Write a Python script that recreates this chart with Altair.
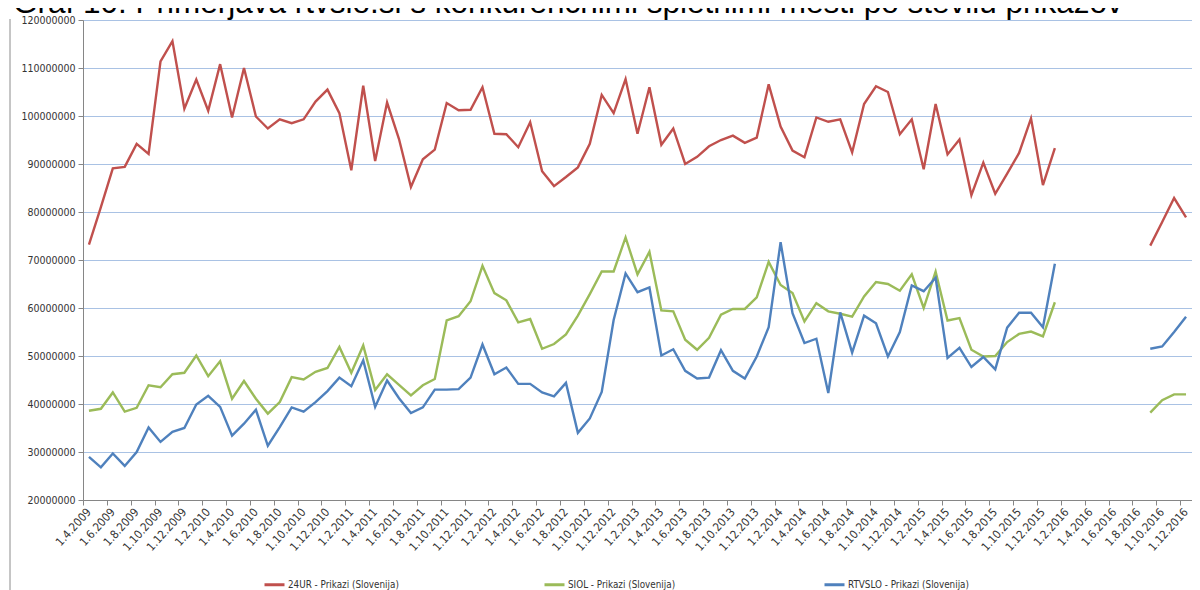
import json
import altair as alt
import pandas as pd

# ---------------- data ----------------
title_text = "Graf 10: Primerjava rtvslo.si s konkurenčnimi spletnimi mesti po številu prikazov"

series_names = ["24UR - Prikazi (Slovenija)", "SIOL - Prikazi (Slovenija)", "RTVSLO - Prikazi (Slovenija)"]
series_colors = ["#C0504D", "#9BBB59", "#4F81BD"]

# monthly labels 1.4.2009 ... 1.12.2016
month_labels = []
_y, _m = 2009, 4
for _ in range(93):
    month_labels.append(f"1.{_m}.{_y}")
    _m += 1
    if _m > 12:
        _m, _y = 1, _y + 1

gap = [None] * 7

# values in millions of views
ur24 = [73.2, 81.0, 89.1, 89.4, 94.2, 92.1, 111.4, 115.6, 101.5, 107.6,
        101.1, 110.8, 99.7, 110.0, 99.9, 97.4, 99.3, 98.5, 99.3, 103.0,
        105.5, 100.6, 88.7, 106.3, 90.6, 102.8, 95.2, 85.2, 91.0, 93.0,
        102.7, 101.2, 101.3, 106.0, 96.3, 96.2, 93.5, 98.7, 88.5, 85.4,
        87.3, 89.3, 94.2, 104.4, 100.6, 107.7, 96.3, 106.0, 94.0, 97.4,
        90.0, 91.5, 93.7, 95.0, 95.9, 94.4, 95.5, 106.6, 97.8, 92.8,
        91.4, 99.7, 98.8, 99.3, 92.4, 102.5, 106.2, 105.0, 96.2, 99.3,
        88.9, 102.5, 92.0, 95.1, 83.5, 90.3, 83.8, 88.0, 92.3, 99.5,
        85.6, 93.3] + gap + [73.0, 77.9, 82.9, 78.9]

siol = [38.6, 39.0, 42.4, 38.4, 39.2, 43.9, 43.5, 46.2, 46.5, 50.1,
        45.8, 48.9, 41.1, 44.8, 41.1, 38.0, 40.4, 45.6, 45.1, 46.7,
        47.5, 51.9, 46.5, 52.2, 42.9, 46.2, 44.0, 41.8, 43.9, 45.2,
        57.4, 58.3, 61.4, 68.8, 63.1, 61.6, 57.0, 57.7, 51.5, 52.5,
        54.5, 58.4, 62.9, 67.6, 67.6, 74.7, 67.0, 71.7, 59.5, 59.3,
        53.4, 51.3, 53.8, 58.6, 59.8, 59.8, 62.2, 69.6, 64.8, 63.1,
        57.2, 61.0, 59.3, 58.8, 58.2, 62.4, 65.4, 65.0, 63.6, 67.0,
        60.0, 67.6, 57.4, 57.9, 51.3, 49.9, 50.0, 52.9, 54.6, 55.1,
        54.1, 61.2] + gap + [38.2, 40.8, 42.0, 42.0]

rtvslo = [29.0, 26.8, 29.7, 27.1, 30.0, 35.1, 32.1, 34.2, 35.0, 39.9,
          41.7, 39.4, 33.4, 35.9, 38.8, 31.3, 35.2, 39.3, 38.4, 40.4,
          42.7, 45.5, 43.7, 49.1, 39.4, 44.9, 41.2, 38.1, 39.3, 43.0,
          43.0, 43.1, 45.5, 52.4, 46.2, 47.6, 44.2, 44.2, 42.4, 41.6,
          44.4, 34.0, 37.0, 42.5, 57.5, 67.2, 63.3, 64.3, 50.1, 51.4,
          46.9, 45.3, 45.5, 51.2, 46.9, 45.3, 49.9, 56.0, 73.7, 58.9,
          52.7, 53.6, 42.3, 59.1, 50.7, 58.4, 56.8, 49.9, 55.0, 64.7,
          63.5, 66.3, 49.6, 51.7, 47.7, 49.8, 47.2, 55.9, 59.0, 59.0,
          56.0, 69.2] + gap + [51.5, 52.0, 55.0, 58.2]

y_ticks = [20000000 + 10000000 * k for k in range(11)]

# ---------------- build table ----------------
rows = []
for order, (name, vals) in enumerate(zip(series_names, [ur24, siol, rtvslo])):
    for i, v in enumerate(vals):
        if v is None:
            continue
        rows.append({"idx": i, "value": v * 1e6, "series": name,
                     "seg": 0 if i < 82 else 1, "ord": order})
df = pd.DataFrame(rows)

W, H = 1109, 480
N = len(month_labels)
step = W / N
label_font = "Liberation Sans Narrow, DejaVu Sans Condensed, Arial Narrow, sans-serif"

x_enc = alt.X(
    "idx:Q",
    scale=alt.Scale(domain=[-0.5, N - 0.5], nice=False, zero=False),
    axis=alt.Axis(
        values=list(range(0, N, 2)),
        labelExpr=json.dumps(month_labels) + "[datum.value]",
        title=None, grid=False,
        tickSize=5, tickOffset=-step / 2, labelOffset=step / 2,
        tickColor="#868686", domainColor="#868686",
        labelAngle=-48, labelAlign="right", labelBaseline="middle",
        labelPadding=5, labelFontSize=11.5, labelFont=label_font,
        labelColor="#333333", labelOverlap=False, labelBound=False,
    ),
)
y_enc = alt.Y(
    "value:Q",
    scale=alt.Scale(domain=[20000000, 120000000], nice=False, zero=False),
    axis=alt.Axis(
        values=y_ticks, format="d", title=None,
        grid=True, gridColor="#A9C2E4", gridWidth=1,
        tickSize=5, tickColor="#868686", domainColor="#868686",
        labelPadding=3, labelFontSize=10.5, labelFont=label_font,
        labelColor="#333333",
    ),
)

lines = alt.Chart(df).mark_line(strokeWidth=2.4).encode(
    x=x_enc,
    y=y_enc,
    color=alt.Color(
        "series:N",
        scale=alt.Scale(domain=series_names, range=series_colors),
        sort=series_names,
        legend=alt.Legend(
            orient="none", legendX=180, legendY=553, direction="horizontal",
            title=None, symbolType="stroke", symbolSize=400, symbolStrokeWidth=3,
            labelFont=label_font, labelFontSize=9.8, labelColor="#333333",
            labelOffset=2, columnPadding=129, gridAlign="all", padding=0,
            labelLimit=300,
        ),
    ),
    detail="seg:N",
    order="ord:Q",
)

title_mark = alt.Chart(pd.DataFrame({"t": [title_text]})).mark_text(
    align="left", baseline="alphabetic", fontSize=31.5,
    font="Liberation Sans, Arial, sans-serif", color="#000000",
).encode(x=alt.value(-70), y=alt.value(-7), text="t:N")

frame_left = alt.Chart(pd.DataFrame({"a": [0]})).mark_rule(
    color="#8C8C8C", strokeWidth=1
).encode(x=alt.value(-73), y=alt.value(-1), y2=alt.value(600))

chart = alt.layer(frame_left, lines, title_mark).properties(
    width=W, height=H,
    autosize=alt.AutoSizeParams(type="none"),
    padding={"left": 75, "top": 12, "right": 0, "bottom": 94},
).configure_view(stroke=None).configure(background="white")

chart.save("out.html", embed_options={"renderer": "svg", "actions": False})
